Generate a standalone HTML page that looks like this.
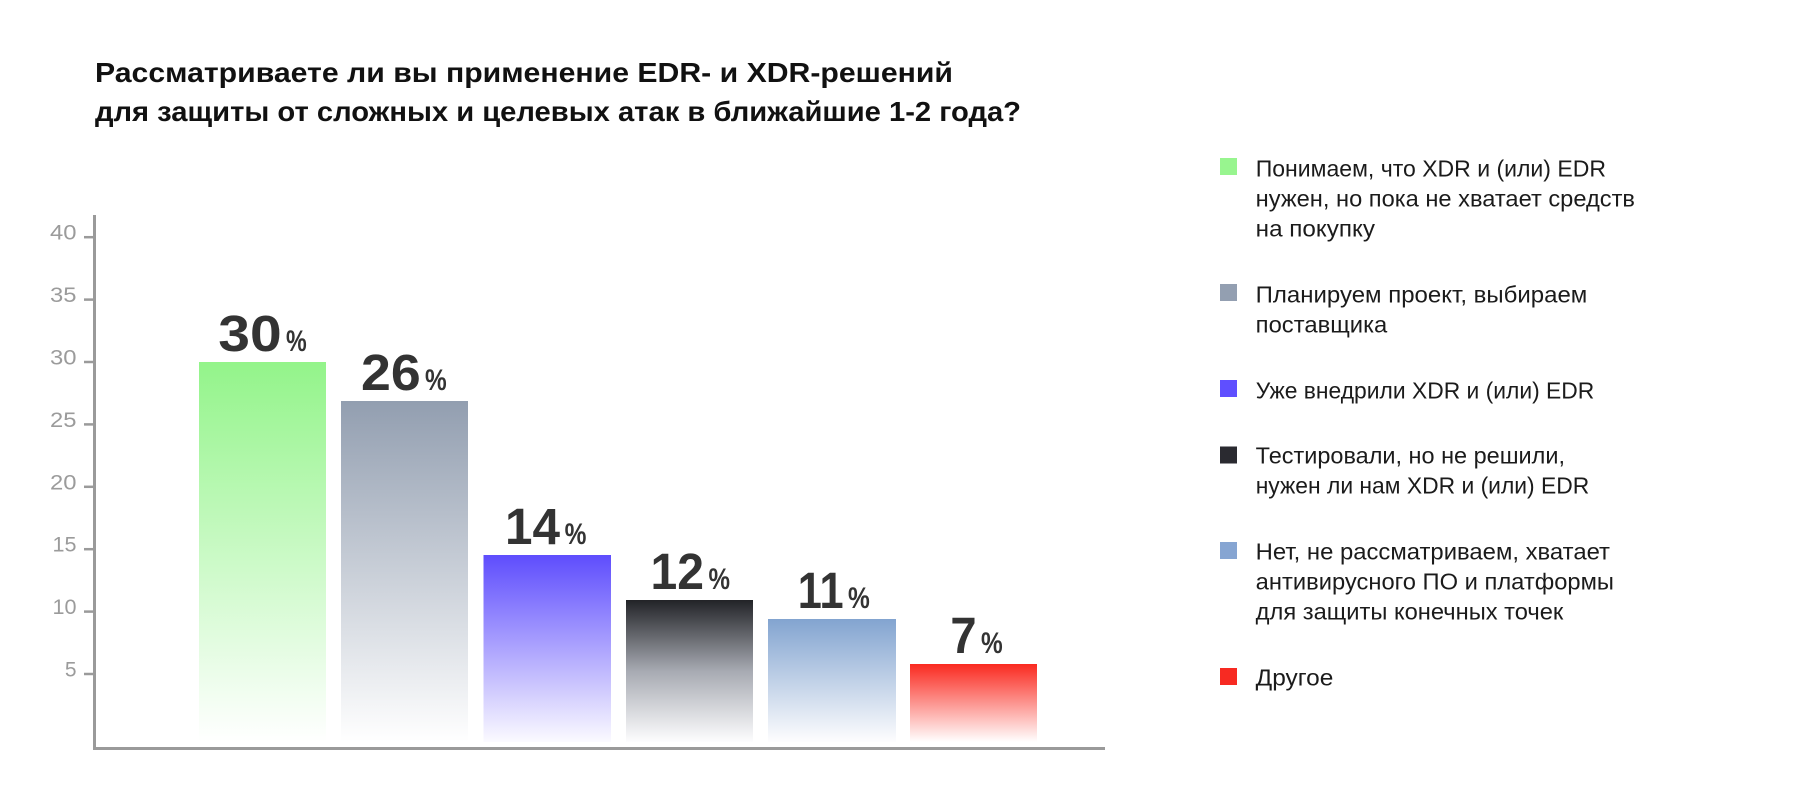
<!DOCTYPE html>
<html>
<head>
<meta charset="utf-8">
<style>
  html, body { margin: 0; padding: 0; background: #ffffff; }
  body { width: 1800px; height: 800px; overflow: hidden; }
  svg { display: block; }
  .title { font-family: "Liberation Sans", "Noto Sans CJK SC", sans-serif; font-weight: bold; font-size: 28px; fill: #111111; }
  .ytick { font-family: "Liberation Sans", sans-serif; font-size: 21px; fill: #9b9b9b; }
  .val { font-family: "Liberation Sans", sans-serif; font-weight: bold; font-size: 51px; fill: #333333; }
  .pct { font-family: "Liberation Sans", sans-serif; font-weight: bold; font-size: 30px; fill: #333333; }
  .leg { font-family: "Liberation Sans", "Noto Sans CJK SC", sans-serif; font-size: 23px; fill: #1b1b1b; }
</style>
</head>
<body>
<svg width="1800" height="800" viewBox="0 0 1800 800" xmlns="http://www.w3.org/2000/svg">
  <defs>
    <linearGradient id="g1" x1="0" y1="0" x2="0" y2="1">
      <stop offset="0" stop-color="#93f48a"/>
      <stop offset="1" stop-color="#ffffff"/>
    </linearGradient>
    <linearGradient id="g2" x1="0" y1="0" x2="0" y2="1">
      <stop offset="0" stop-color="#929eb0"/>
      <stop offset="1" stop-color="#ffffff"/>
    </linearGradient>
    <linearGradient id="g3" x1="0" y1="0" x2="0" y2="1">
      <stop offset="0" stop-color="#5e4dfd"/>
      <stop offset="1" stop-color="#fbfaff"/>
    </linearGradient>
    <linearGradient id="g4" x1="0" y1="0" x2="0" y2="1">
      <stop offset="0" stop-color="#222327"/>
      <stop offset="0.5" stop-color="#a7aab2"/>
      <stop offset="1" stop-color="#fdfdfe"/>
    </linearGradient>
    <linearGradient id="g5" x1="0" y1="0" x2="0" y2="1">
      <stop offset="0" stop-color="#82a4d0"/>
      <stop offset="1" stop-color="#fdfdfe"/>
    </linearGradient>
    <linearGradient id="g6" x1="0" y1="0" x2="0" y2="1">
      <stop offset="0" stop-color="#fa2a20"/>
      <stop offset="1" stop-color="#ffffff"/>
    </linearGradient>
  </defs>

  <!-- Title -->
  <text class="title" x="95" y="82" textLength="858" lengthAdjust="spacingAndGlyphs">Рассматриваете ли вы применение EDR- и XDR-решений</text>
  <text class="title" x="95" y="121" textLength="926" lengthAdjust="spacingAndGlyphs">для защиты от сложных и целевых атак в ближайшие 1-2 года?</text>

  <!-- Bars -->
  <rect x="199" y="362" width="127" height="380" fill="url(#g1)"/>
  <rect x="341" y="401" width="127" height="341" fill="url(#g2)"/>
  <rect x="483.5" y="555" width="127.5" height="187" fill="url(#g3)"/>
  <rect x="626" y="600" width="127" height="142" fill="url(#g4)"/>
  <rect x="768" y="619" width="128" height="123" fill="url(#g5)"/>
  <rect x="910" y="664" width="127" height="78" fill="url(#g6)"/>

  <!-- Axes -->
  <line x1="94.5" y1="215" x2="94.5" y2="750" stroke="#9a9a9a" stroke-width="3"/>
  <line x1="93" y1="748.5" x2="1105" y2="748.5" stroke="#9a9a9a" stroke-width="3"/>

  <!-- Y ticks -->
  <g stroke="#9a9a9a" stroke-width="2.5">
    <line x1="84" y1="237.2" x2="94" y2="237.2"/>
    <line x1="84" y1="299.6" x2="94" y2="299.6"/>
    <line x1="84" y1="362" x2="94" y2="362"/>
    <line x1="84" y1="424.4" x2="94" y2="424.4"/>
    <line x1="84" y1="486.8" x2="94" y2="486.8"/>
    <line x1="84" y1="549.2" x2="94" y2="549.2"/>
    <line x1="84" y1="611.6" x2="94" y2="611.6"/>
    <line x1="84" y1="674" x2="94" y2="674"/>
  </g>
  <g class="ytick" text-anchor="end">
    <text x="76.5" y="239.7" textLength="26.5" lengthAdjust="spacingAndGlyphs">40</text>
    <text x="76.5" y="302.1" textLength="26.5" lengthAdjust="spacingAndGlyphs">35</text>
    <text x="76.5" y="364.5" textLength="26.5" lengthAdjust="spacingAndGlyphs">30</text>
    <text x="76.5" y="426.9" textLength="26.5" lengthAdjust="spacingAndGlyphs">25</text>
    <text x="76.5" y="489.3" textLength="26.5" lengthAdjust="spacingAndGlyphs">20</text>
    <text x="76.5" y="551.7" textLength="24" lengthAdjust="spacingAndGlyphs">15</text>
    <text x="76.5" y="614.1" textLength="24" lengthAdjust="spacingAndGlyphs">10</text>
    <text x="76.5" y="676.5">5</text>
  </g>

  <!-- Value labels -->
  <text class="val" x="218.3" y="351" textLength="63.4" lengthAdjust="spacingAndGlyphs">30</text>
  <text class="pct" x="286" y="351" textLength="20.7" lengthAdjust="spacingAndGlyphs">%</text>

  <text class="val" x="361" y="390" textLength="59.7" lengthAdjust="spacingAndGlyphs">26</text>
  <text class="pct" x="425" y="390" textLength="21.7" lengthAdjust="spacingAndGlyphs">%</text>

  <text class="val" x="505" y="544" textLength="55" lengthAdjust="spacingAndGlyphs">14</text>
  <text class="pct" x="564.6" y="544" textLength="21.8" lengthAdjust="spacingAndGlyphs">%</text>

  <text class="val" x="650.5" y="589" textLength="53.5" lengthAdjust="spacingAndGlyphs">12</text>
  <text class="pct" x="708.5" y="589" textLength="21.5" lengthAdjust="spacingAndGlyphs">%</text>

  <text class="val" x="797.8" y="608" textLength="45.8" lengthAdjust="spacingAndGlyphs">11</text>
  <text class="pct" x="848" y="608" textLength="21.8" lengthAdjust="spacingAndGlyphs">%</text>

  <text class="val" x="950.4" y="653" textLength="26.2" lengthAdjust="spacingAndGlyphs">7</text>
  <text class="pct" x="981" y="653" textLength="21.7" lengthAdjust="spacingAndGlyphs">%</text>

  <!-- Legend -->
  <rect x="1220" y="158" width="17" height="17" fill="#98f58f"/>
  <text class="leg" x="1255.7" y="176.7" textLength="350.3" lengthAdjust="spacingAndGlyphs">Понимаем, что XDR и (или) EDR</text>
  <text class="leg" x="1255.7" y="206.7" textLength="379.3" lengthAdjust="spacingAndGlyphs">нужен, но пока не хватает средств</text>
  <text class="leg" x="1255.7" y="236.7" textLength="119.3" lengthAdjust="spacingAndGlyphs">на покупку</text>

  <rect x="1220" y="284" width="17" height="17" fill="#939fb1"/>
  <text class="leg" x="1255.7" y="302.3" textLength="331.6" lengthAdjust="spacingAndGlyphs">Планируем проект, выбираем</text>
  <text class="leg" x="1255.7" y="332.3" textLength="131.6" lengthAdjust="spacingAndGlyphs">поставщика</text>

  <rect x="1220" y="380" width="17" height="17" fill="#5f4fff"/>
  <text class="leg" x="1255.7" y="398.3" textLength="338.6" lengthAdjust="spacingAndGlyphs">Уже внедрили XDR и (или) EDR</text>

  <rect x="1220" y="446.5" width="17" height="17" fill="#2a2a30"/>
  <text class="leg" x="1255.7" y="463.3" textLength="309.3" lengthAdjust="spacingAndGlyphs">Тестировали, но не решили,</text>
  <text class="leg" x="1255.7" y="493.3" textLength="333.6" lengthAdjust="spacingAndGlyphs">нужен ли нам XDR и (или) EDR</text>

  <rect x="1220" y="542" width="17" height="17" fill="#86a5d2"/>
  <text class="leg" x="1255.7" y="559.3" textLength="354.3" lengthAdjust="spacingAndGlyphs">Нет, не рассматриваем, хватает</text>
  <text class="leg" x="1255.7" y="589.3" textLength="358.3" lengthAdjust="spacingAndGlyphs">антивирусного ПО и платформы</text>
  <text class="leg" x="1255.7" y="619.3" textLength="307.6" lengthAdjust="spacingAndGlyphs">для защиты конечных точек</text>

  <rect x="1220" y="668" width="17" height="17" fill="#f72a22"/>
  <text class="leg" x="1255.7" y="685.7" textLength="77.6" lengthAdjust="spacingAndGlyphs">Другое</text>
</svg>
</body>
</html>
